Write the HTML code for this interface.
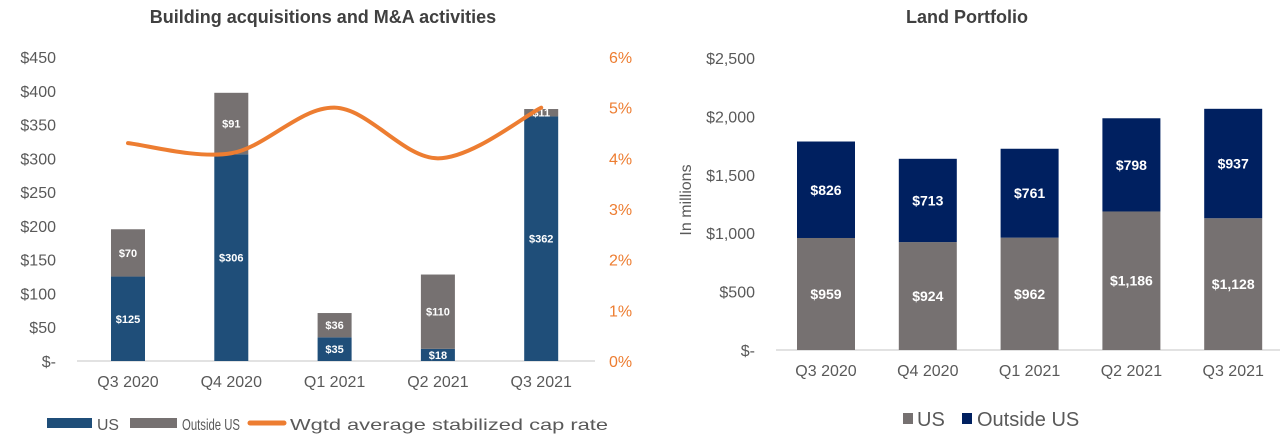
<!DOCTYPE html>
<html><head><meta charset="utf-8"><style>
body{margin:0;background:#fff;}
svg text{font-family:"Liberation Sans",sans-serif;}
</style></head><body>
<svg id="c" width="1280" height="440" xmlns="http://www.w3.org/2000/svg">
<text x="323" y="23" text-anchor="middle" font-size="18" font-weight="bold" fill="#404040">Building acquisitions and M&amp;A activities</text>
<text x="967" y="23" text-anchor="middle" font-size="18" font-weight="bold" fill="#404040">Land Portfolio</text>
<g id="L"></g><g id="R"></g>
</svg>
<script>
const cats=["Q3 2020","Q4 2020","Q1 2021","Q2 2021","Q3 2021"];
const accUS=[125,306,35,18,362];
const accOut=[70,91,36,110,11];
const capRate=[4.3,4.1,5.0,4.0,5.0];
const accTicks=["$-","$50","$100","$150","$200","$250","$300","$350","$400","$450"];
const pctTicks=["0%","1%","2%","3%","4%","5%","6%"];
const landUS=[959,924,962,1186,1128];
const landOut=[826,713,761,798,937];
const landTicks=["$-","$500","$1,000","$1,500","$2,000","$2,500"];
const NS="http://www.w3.org/2000/svg";
function mk(p,t,a){const e=document.createElementNS(NS,t);for(const k in a)e.setAttribute(k,a[k]);p.appendChild(e);return e;}
// Left chart
const L=document.getElementById('L');
const ly=v=>361-v*(304/450), lp=v=>361-v*(304/6), lx=i=>128+i*103.3;
accTicks.forEach((t,i)=>{const e=mk(L,'text',{x:56,y:ly(i*50)+6,'text-anchor':'end','font-size':16,fill:'#595959'});e.textContent=t;

});
pctTicks.forEach((t,i)=>{const e=mk(L,'text',{x:609,y:lp(i)+6,'font-size':16,fill:'#ed7d31'});e.textContent=t;

});
const la=mk(L,'line',{x1:77,x2:595,y1:361,y2:361,stroke:'#d9d9d9','stroke-width':1.5});


cats.forEach((c,i)=>{
 const x=lx(i)-17;
 const b1=mk(L,'rect',{x:x,y:ly(accUS[i]),width:34,height:ly(0)-ly(accUS[i]),fill:'#1f4e79'});
 
 
 const b2=mk(L,'rect',{x:x,y:ly(accUS[i]+accOut[i]),width:34,height:ly(accUS[i])-ly(accUS[i]+accOut[i]),fill:'#767171'});
 
 
 const t1=mk(L,'text',{x:lx(i),y:(ly(0)+ly(accUS[i]))/2+4,'text-anchor':'middle','font-size':11,'font-weight':'bold',fill:'#fff'});t1.textContent='$'+accUS[i];
 
 
 const t2=mk(L,'text',{x:lx(i),y:(ly(accUS[i])+ly(accUS[i]+accOut[i]))/2+4,'text-anchor':'middle','font-size':11,'font-weight':'bold',fill:'#fff'});t2.textContent='$'+accOut[i];
 
 
 const xl=mk(L,'text',{x:lx(i),y:387,'text-anchor':'middle','font-size':16,fill:'#595959'});xl.textContent=c;
 
 
});
let pts=capRate.map((v,i)=>[lx(i),lp(v)]);
let d='M'+pts[0][0]+','+pts[0][1];
for(let i=0;i<pts.length-1;i++){const p0=pts[i-1]||pts[i],p1=pts[i],p2=pts[i+1],p3=pts[i+2]||p2;
d+=' C'+(p1[0]+(p2[0]-p0[0])/6)+','+(p1[1]+(p2[1]-p0[1])/6)+' '+(p2[0]-(p3[0]-p1[0])/6)+','+(p2[1]-(p3[1]-p1[1])/6)+' '+p2[0]+','+p2[1];}
const ln=mk(L,'path',{d:d,fill:'none',stroke:'#ed7d31','stroke-width':4,'stroke-linecap':'round'});


const lg=mk(L,'g',{});


mk(lg,'rect',{x:47,y:418,width:45,height:10,fill:'#1f4e79'});
mk(lg,'text',{x:97,y:430,'font-size':16,fill:'#595959',textLength:22,lengthAdjust:'spacingAndGlyphs'}).textContent='US';
mk(lg,'rect',{x:130,y:418,width:47,height:10,fill:'#767171'});
mk(lg,'text',{x:182,y:430,'font-size':16,fill:'#595959',textLength:58,lengthAdjust:'spacingAndGlyphs'}).textContent='Outside US';
mk(lg,'line',{x1:250,x2:284,y1:423,y2:423,stroke:'#ed7d31','stroke-width':5,'stroke-linecap':'round'});
mk(lg,'text',{x:290,y:430,'font-size':16,fill:'#595959',textLength:318,lengthAdjust:'spacingAndGlyphs'}).textContent='Wgtd average stabilized cap rate';
// Right chart
const R=document.getElementById('R');
const ry=v=>350-v*(292/2500), rx=i=>826+i*101.8;
landTicks.forEach((t,i)=>{const e=mk(R,'text',{x:755,y:ry(i*500)+6,'text-anchor':'end','font-size':16,fill:'#595959'});e.textContent=t;

});
const yt=mk(R,'text',{x:0,y:0,transform:'translate(691,200) rotate(-90)','text-anchor':'middle','font-size':16,fill:'#595959'});yt.textContent='In millions';


const ra=mk(R,'line',{x1:776,x2:1280,y1:350,y2:350,stroke:'#d9d9d9','stroke-width':1.5});


cats.forEach((c,i)=>{
 const x=rx(i)-29;
 const b1=mk(R,'rect',{x:x,y:ry(landUS[i]),width:58,height:ry(0)-ry(landUS[i]),fill:'#767171'});
 
 
 const b2=mk(R,'rect',{x:x,y:ry(landUS[i]+landOut[i]),width:58,height:ry(landUS[i])-ry(landUS[i]+landOut[i]),fill:'#002060'});
 
 
 const t1=mk(R,'text',{x:rx(i),y:(ry(0)+ry(landUS[i]))/2+5,'text-anchor':'middle','font-size':14,'font-weight':'bold',fill:'#fff'});t1.textContent='$'+landUS[i].toLocaleString('en-US');
 
 
 const t2=mk(R,'text',{x:rx(i),y:(ry(landUS[i])+ry(landUS[i]+landOut[i]))/2+5,'text-anchor':'middle','font-size':14,'font-weight':'bold',fill:'#fff'});t2.textContent='$'+landOut[i].toLocaleString('en-US');
 
 
 const xl=mk(R,'text',{x:rx(i),y:376,'text-anchor':'middle','font-size':16,fill:'#595959'});xl.textContent=c;
 
 
});
const rg=mk(R,'g',{});


mk(rg,'rect',{x:903,y:413,width:10,height:11,fill:'#767171'});
mk(rg,'text',{x:917,y:426,'font-size':20,fill:'#595959'}).textContent='US';
mk(rg,'rect',{x:962,y:413,width:10,height:11,fill:'#002060'});
mk(rg,'text',{x:977,y:426,'font-size':20,fill:'#595959'}).textContent='Outside US';
</script>
</body></html>
